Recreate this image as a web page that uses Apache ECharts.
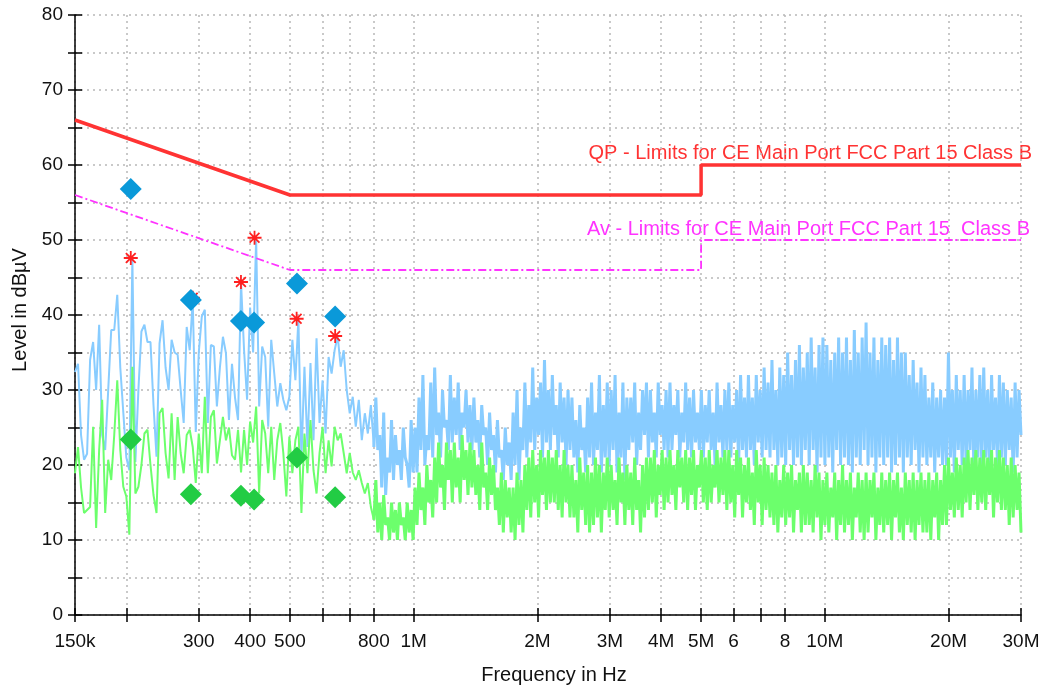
<!DOCTYPE html>
<html>
<head>
<meta charset="utf-8">
<script src="https://cdn.jsdelivr.net/npm/echarts@6/dist/echarts.min.js"></script>
<style>
html, body { margin: 0; padding: 0; background: #fff; }
#main { width: 1045px; height: 690px; }
</style>
</head>
<body>
<div id="main"></div>
<script>
// x axis ticks / labels (Hz)
var tickFreqs = [150e3, 200e3, 300e3, 400e3, 500e3, 600e3, 700e3, 800e3, 1e6,
	2e6, 3e6, 4e6, 5e6, 6e6, 7e6, 8e6, 10e6, 20e6, 30e6];
var labelFreqs = [150e3, 300e3, 400e3, 500e3, 800e3, 1e6, 2e6, 3e6, 4e6, 5e6, 6e6, 8e6, 10e6, 20e6, 30e6];
var labelTexts = ['150k', '300', '400', '500', '800', '1M', '2M', '3M', '4M', '5M', '6', '8', '10M', '20M', '30M'];

// FCC Part 15 class B limits
var limitFreq = [150e3, 500e3, 5e6, 5e6, 30e6];
var qpLimit = [66, 56, 56, 60, 60];
var avLimit = [56, 46, 46, 50, 50];

// final measurement points
var peakFreq = [205e3, 287e3, 380e3, 409e3, 520e3, 644e3];
var qpLevel = [56.8, 42.0, 39.2, 39.0, 44.2, 39.8];
var avLevel = [23.4, 16.1, 15.9, 15.4, 21.0, 15.7];
var starFreq = [205e3, 290e3, 380e3, 410e3, 519e3, 644e3];
var starLevel = [47.6, 42.3, 44.4, 50.3, 39.5, 37.2];

// pre-scan sweep 1: 150k - 800k, 100 points (log spaced)
var sweepA = { start: 150e3, stop: 800e3 };
var peakA = [
	32.4, 33.5, 24, 20.7, 21.5, 34, 36.4, 30, 38.7, 24,
	22, 30, 38, 38, 42.7, 33, 27, 21, 19.3, 47.5,
	20.4, 30, 37.8, 38.7, 36.4, 36.4, 28, 21.1, 36.2, 39.3,
	33, 30, 36.7, 35, 34.7, 30, 25.6, 38.4, 35.3, 42,
	24.4, 35, 39.8, 40.7, 25.6, 36, 35.8, 27.8, 33, 37.1,
	34.9, 26, 33.5, 29, 26, 44.3, 35.3, 28.7, 41, 35,
	50.2, 27.8, 35.8, 34.4, 25.1, 36.7, 32.2, 27.8, 30.9, 28.7,
	27.3, 29.1, 36.7, 31.3, 39.5, 20.7, 33.1, 22.4, 33.6, 23.3,
	36.9, 25.6, 31.3, 24.2, 34.4, 32.2, 35.3, 37.2, 33.1, 35.3,
	30, 26.9, 29.1, 25.1, 28.7, 23.3, 26.9, 24.2, 28, 22.4
];
var avgA = [
	18.9, 22.4, 17, 13.6, 14, 14.4, 25.1, 11.6, 22, 28.7,
	13.6, 20.7, 18, 24, 31.3, 22, 17.1, 15.8, 10.7, 33.1,
	16.2, 17.1, 20, 24.2, 24.7, 20, 16, 13.6, 26.9, 27.6,
	21.6, 18.2, 26.9, 18, 26.4, 21.6, 18.9, 24, 24.7, 22.4,
	17.6, 24.2, 18.9, 29.1, 18.9, 26.4, 27.3, 20.2, 23.3, 26.4,
	23.3, 25, 21.3, 20.7, 24.7, 19, 24.7, 20, 25.8, 23,
	27.8, 16.2, 26, 24.2, 18.9, 25.1, 18, 23.3, 25.6, 21.6,
	15.8, 23.8, 18.9, 23.3, 25.1, 13.6, 24.2, 18.9, 26, 19.3,
	16.2, 21.6, 25.1, 18.9, 23.3, 19.8, 25.1, 23.3, 24.2, 21.6,
	18.9, 21.6, 19, 18, 19.3, 17.6, 16.2, 17.6, 14.4, 12.7
];

// pre-scan sweep 2: 800k - 30M, 330 points (log spaced)
var sweepB = { start: 800e3, stop: 30e6 };
var peakB = [
	29, 22, 24, 17, 27, 16, 21, 19, 26, 18,
	24, 20, 22, 18, 25, 21, 20, 17, 26, 19,
	25, 19, 29, 22, 32, 20, 24, 22, 31, 21,
	33, 24, 27, 21, 30, 25, 26, 22, 32, 23,
	29, 24, 31, 22, 27, 25, 30, 23, 28, 22,
	29, 23, 26, 21, 28, 24, 25, 20, 27, 22,
	24, 19, 26, 21, 22, 18, 25, 20, 23, 18,
	27, 20, 30, 18, 25, 22, 31, 21, 28, 23,
	33, 22, 29, 24, 31, 21, 34, 23, 30, 22,
	32, 24, 28, 21, 31, 23, 29, 20, 30, 22,
	29, 21, 26, 19, 28, 22, 25, 19, 29, 21,
	31, 20, 27, 22, 32, 19, 28, 21, 31, 20,
	30, 22, 32, 19, 27, 21, 31, 18, 29, 22,
	29, 23, 31, 20, 27, 22, 30, 24, 31, 21,
	30, 23, 27, 21, 31, 24, 28, 22, 30, 21,
	31, 22, 28, 24, 30, 21, 27, 23, 31, 22,
	29, 21, 30, 23, 27, 22, 30, 21, 28, 23,
	30, 22, 27, 20, 31, 23, 28, 21, 30, 22,
	31, 21, 28, 23, 30, 20, 32, 22, 29, 21,
	32, 22, 29, 20, 32, 23, 30, 21, 33, 22,
	31, 21, 34, 22, 30, 20, 33, 21, 32, 20,
	35, 22, 32, 20, 34, 21, 36, 20, 33, 22,
	35, 20, 37, 22, 33, 19, 36, 21, 37, 20,
	36, 21, 34, 19, 35, 22, 37, 20, 35, 21,
	37, 20, 34, 19, 38, 21, 35, 20, 37, 22,
	39, 20, 35, 21, 37, 19, 34, 21, 37, 20,
	36, 21, 37, 19, 34, 20, 37, 21, 35, 19,
	35, 21, 32, 20, 34, 22, 31, 19, 33, 21,
	32, 20, 29, 21, 31, 19, 29, 21, 30, 20,
	29, 20, 35, 21, 30, 19, 32, 22, 30, 20,
	32, 20, 30, 22, 33, 19, 30, 21, 32, 20,
	33, 21, 30, 19, 32, 22, 29, 20, 32, 21,
	31, 20, 30, 22, 29, 19, 31, 21, 30, 24
];
var avgB = [
	18, 11, 15, 10, 16, 12, 13, 10, 15, 11,
	14, 10, 15, 12, 13, 10, 15, 11, 14, 10,
	17, 12, 19, 14, 17, 12, 20, 15, 18, 13,
	21, 15, 23, 17, 20, 14, 23, 18, 22, 15,
	23, 17, 21, 15, 24, 18, 22, 16, 23, 17,
	22, 16, 20, 14, 23, 17, 19, 14, 21, 16,
	20, 14, 17, 12, 19, 11, 18, 13, 17, 11,
	17, 10, 19, 12, 18, 11, 20, 14, 21, 13,
	22, 15, 20, 13, 22, 16, 21, 14, 22, 15,
	21, 15, 22, 14, 20, 13, 22, 15, 20, 13,
	20, 13, 18, 11, 21, 14, 19, 12, 20, 11,
	19, 12, 21, 13, 20, 11, 19, 14, 21, 13,
	20, 14, 18, 12, 21, 15, 19, 12, 20, 14,
	19, 12, 21, 14, 18, 11, 20, 13, 21, 14,
	21, 15, 22, 13, 20, 16, 22, 14, 21, 15,
	22, 16, 20, 14, 22, 17, 21, 15, 22, 14,
	21, 16, 22, 14, 20, 17, 22, 15, 21, 14,
	22, 15, 20, 17, 22, 15, 21, 16, 22, 14,
	22, 15, 20, 13, 22, 16, 21, 13, 20, 15,
	21, 14, 19, 12, 22, 15, 20, 12, 21, 14,
	20, 13, 19, 12, 20, 11, 18, 13, 20, 12,
	19, 13, 20, 11, 18, 14, 19, 11, 20, 12,
	19, 12, 18, 11, 20, 13, 19, 10, 18, 12,
	19, 11, 17, 13, 19, 10, 18, 12, 20, 11,
	18, 12, 19, 10, 17, 13, 19, 11, 18, 10,
	19, 11, 18, 13, 19, 10, 17, 12, 19, 11,
	18, 12, 19, 10, 18, 13, 19, 11, 17, 10,
	19, 12, 18, 11, 19, 10, 18, 12, 19, 11,
	18, 11, 19, 10, 18, 13, 19, 10, 18, 12,
	20, 12, 21, 14, 19, 13, 21, 14, 20, 13,
	21, 15, 22, 14, 21, 16, 22, 14, 21, 15,
	22, 14, 21, 16, 22, 13, 21, 15, 22, 14,
	21, 14, 20, 12, 21, 13, 20, 14, 19, 11
];

// frequency of sweep point i (receiver steps are log spaced)
function sweepFreq(sw, i, n, skipFirst) {
	var k = skipFirst ? (i + 1) / n : i / (n - 1);
	return sw.start * Math.pow(sw.stop / sw.start, k);
}
function traceA(a) {
	return a.map(function(v, i) { return [sweepFreq(sweepA, i, a.length, false), v]; });
}
// dense part, starts from the last point of sweep 1 so the trace is continuous
function traceB(a, b) {
	var out = [[sweepA.stop, a[a.length - 1]]];
	b.forEach(function(v, i) { out.push([sweepFreq(sweepB, i, b.length, true), v]); });
	return out;
}
function pairs(xs, ys) {
	return xs.map(function(x, i) { return [x, ys[i]]; });
}

var font = '"Liberation Sans", Arial, sans-serif';
var gridLine = { show: true, lineStyle: { color: '#b8b8b8', type: [2, 4], width: 1.5 } };
var blue = '#88ccff', green = '#6cff6c';

var chart = echarts.init(document.getElementById('main'), null, { renderer: 'canvas' });

chart.setOption({
	animation: false,
	backgroundColor: '#fff',
	grid: { left: 75, right: 24, top: 15, bottom: 75 },
	xAxis: [{
		type: 'log',
		min: 150e3,
		max: 30e6,
		name: 'Frequency in Hz',
		nameLocation: 'middle',
		nameGap: 50,
		nameTextStyle: { fontFamily: font, fontSize: 20, color: '#111', padding: [0, 0, 0, 12] },
		axisLine: { show: true, lineStyle: { color: '#000', width: 1.5 } },
		axisTick: { show: true, length: 7, inside: false, lineStyle: { color: '#000', width: 1.5 }, customValues: tickFreqs },
		axisLabel: {
			show: true, margin: 17, fontFamily: font, fontSize: 19, color: '#111',
			customValues: labelFreqs,
			formatter: function(v) {
				for (var i = 0; i < labelFreqs.length; i++) {
					if (Math.abs(Math.log10(v / labelFreqs[i])) < 0.002) return labelTexts[i];
				}
				return '';
			}
		},
		splitLine: gridLine
	}, {
		type: 'log',
		min: 150e3,
		max: 30e6,
		position: 'bottom',
		axisLine: { show: false },
		axisTick: { show: true, length: 7, inside: true, lineStyle: { color: '#000', width: 1.5 }, customValues: tickFreqs },
		axisLabel: { show: false },
		splitLine: { show: false }
	}],
	yAxis: [{
		type: 'value',
		min: 0,
		max: 80,
		interval: 5,
		name: 'Level in dBµV',
		nameLocation: 'middle',
		nameGap: 45,
		nameRotate: 90,
		nameTextStyle: { fontFamily: font, fontSize: 20, color: '#111', padding: [0, 0, 0, 10] },
		axisLine: { show: true, lineStyle: { color: '#000', width: 1.5 } },
		axisTick: { show: true, length: 7, inside: false, lineStyle: { color: '#000', width: 1.5 } },
		axisLabel: {
			margin: 12, fontFamily: font, fontSize: 19, color: '#111',
			formatter: function(v) { return v % 10 === 0 ? String(v) : ''; }
		},
		splitLine: gridLine
	}, {
		type: 'value',
		min: 0,
		max: 80,
		interval: 5,
		position: 'left',
		axisLine: { show: false },
		axisTick: { show: true, length: 7, inside: true, lineStyle: { color: '#000', width: 1.5 } },
		axisLabel: { show: false },
		splitLine: { show: false }
	}],
	graphic: [{
		type: 'text', right: 13, top: 143,
		style: { text: 'QP - Limits for CE Main Port FCC Part 15 Class B', fill: '#ff3333', font: '20px ' + font }
	}, {
		type: 'text', right: 15, top: 219,
		style: { text: 'Av - Limits for CE Main Port FCC Part 15  Class B', fill: '#ff33ff', font: '20px ' + font }
	}],
	series: [{
		name: 'Peak scan',
		type: 'line',
		data: traceA(peakA),
		showSymbol: false,
		lineStyle: { color: blue, width: 2 },
		z: 2
	}, {
		name: 'Peak scan dense',
		type: 'line',
		data: traceB(peakA, peakB),
		showSymbol: false,
		lineStyle: { color: blue, width: 3 },
		z: 2
	}, {
		name: 'Average scan',
		type: 'line',
		data: traceA(avgA),
		showSymbol: false,
		lineStyle: { color: green, width: 2 },
		z: 3
	}, {
		name: 'Average scan dense',
		type: 'line',
		data: traceB(avgA, avgB),
		showSymbol: false,
		lineStyle: { color: green, width: 3 },
		z: 3
	}, {
		name: 'QP limit',
		type: 'line',
		data: pairs(limitFreq, qpLimit),
		showSymbol: false,
		lineStyle: { color: '#ff3333', width: 3.5 },
		z: 4
	}, {
		name: 'AV limit',
		type: 'line',
		data: pairs(limitFreq, avLimit),
		showSymbol: false,
		lineStyle: { color: '#ff33ff', width: 1.8, type: [8, 3, 2, 3] },
		z: 4
	}, {
		name: 'Peak',
		type: 'scatter',
		data: pairs(starFreq, starLevel),
		symbol: 'path://M10,0L10,20M0,10L20,10M3,3L17,17M3,17L17,3',
		symbolSize: 14,
		itemStyle: { color: 'rgba(0,0,0,0)', borderColor: '#ff2020', borderWidth: 1.8, opacity: 1 },
		z: 5
	}, {
		name: 'QP',
		type: 'scatter',
		data: pairs(peakFreq, qpLevel),
		symbol: 'diamond',
		symbolSize: 22,
		itemStyle: { color: '#0a99d9', opacity: 1 },
		z: 6
	}, {
		name: 'AV',
		type: 'scatter',
		data: pairs(peakFreq, avLevel),
		symbol: 'diamond',
		symbolSize: 22,
		itemStyle: { color: '#22cc44', opacity: 1 },
		z: 6
	}]
});
</script>
</body>
</html>
